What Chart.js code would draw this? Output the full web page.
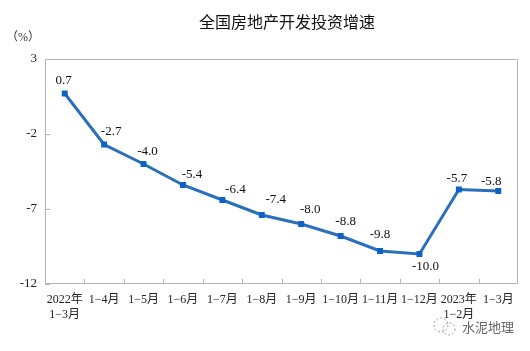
<!DOCTYPE html>
<html>
<head>
<meta charset="utf-8">
<style>
html,body{margin:0;padding:0;background:#fff}
canvas{display:block}
</style>
<script src="https://cdn.jsdelivr.net/npm/chart.js@4"></script>
</head>
<body>
<canvas id="chart" width="530" height="351"></canvas>
<script>
const categorias=[["2022年","1−3月"],"1−4月","1−5月","1−6月","1−7月","1−8月","1−9月","1−10月","1−11月","1−12月",["2023年","1−2月"],"1−3月"]
const valores=[0.7,-2.7,-4.0,-5.4,-6.4,-7.4,-8.0,-8.8,-9.8,-10.0,-5.7,-5.8]
const ticksY=[3,-2,-7,-12]

// ajuste de cada etiqueta respecto a su punto
const ajusteX=[-1,7,4,9,13,14,9,5,0,6,-2,-7]
const ajusteY=[-13,-13,-12,-10,-10,-15,-14,-14,-16,13,-11,-9]

const fuente='"Liberation Serif","Noto Sans CJK SC",serif'
const gris="#b4b4b4"

// marcas hacia adentro y marco del area
const marcas={
id:"marcas",
beforeDatasetsDraw(chart){
const c=chart.ctx,a=chart.chartArea,x=chart.scales.x,y=chart.scales.y
c.save()
c.strokeStyle=gris
c.lineWidth=1
c.beginPath()
c.rect(a.left+.5,a.top+.5,a.width-1,a.height-1)
for(let i=1;i<categorias.length;i++){
const px=Math.round(x.getPixelForTick(i)-x.width/categorias.length/2)+.5
c.moveTo(px,a.bottom)
c.lineTo(px,a.bottom-5)
}
ticksY.forEach(v=>{
const py=Math.round(y.getPixelForValue(v))+.5
c.moveTo(a.left,py)
c.lineTo(a.left+5,py)
})
c.stroke()
c.restore()
}
}

const etiquetas={
id:"etiquetas",
afterDatasetsDraw(chart){
const c=chart.ctx
const pts=chart.getDatasetMeta(0).data
c.save()
c.font="13px "+fuente
c.fillStyle="#111"
c.textAlign="center"
c.textBaseline="middle"
pts.forEach((p,i)=>{
c.fillText(valores[i].toFixed(1),p.x+ajusteX[i],p.y+ajusteY[i])
})
c.restore()
}
}

// titulo, unidad y marca de agua
const textos={
id:"textos",
afterDraw(chart){
const c=chart.ctx
c.save()
c.textBaseline="middle"
c.textAlign="center"
c.fillStyle="#111"
c.font='16px "Noto Sans CJK SC",sans-serif'
c.fillText("全国房地产开发投资增速",287,22)
c.fillStyle="#333"
c.font='12px '+fuente
c.fillText("（%）",23,38)
c.fillStyle="#666"
c.font='13px "Noto Sans CJK SC",sans-serif'
c.textAlign="left"
c.fillText("水泥地理",462,327)
c.strokeStyle="#999"
c.lineWidth=1
c.setLineDash([2,2])
c.beginPath()
c.arc(441,325,7,0,Math.PI*2)
c.stroke()
c.beginPath()
c.arc(449,329,6,0,Math.PI*2)
c.stroke()
c.restore()
}
}

new Chart(document.getElementById("chart"),{
type:"line",
data:{
labels:categorias,
datasets:[{
data:valores,
borderColor:"#2a6fbe",
borderWidth:3,
pointStyle:"rect",
pointRadius:4.2,
pointBackgroundColor:"#0b63c8",
pointBorderWidth:0,
tension:0
}]
},
options:{
responsive:false,
animation:false,
layout:{padding:{left:15,right:12,top:59,bottom:0}},
plugins:{
legend:{display:false},
tooltip:{enabled:false}
},
scales:{
x:{
offset:true,
grid:{display:false,drawTicks:false},
border:{display:false},
afterFit(s){s.height=67},
ticks:{
color:"#222",
font:{family:fuente,size:12,lineHeight:1.2},
padding:9,
maxRotation:0,
autoSkip:false
}
},
y:{
min:-12,
max:3,
afterFit(s){s.width=30},
afterBuildTicks(s){s.ticks=ticksY.map(v=>({value:v}))},
grid:{display:false,drawTicks:false},
border:{display:false},
ticks:{
color:"#222",
font:{family:fuente,size:13},
padding:8
}
}
}
},
plugins:[marcas,etiquetas,textos]
})
</script>
</body>
</html>
